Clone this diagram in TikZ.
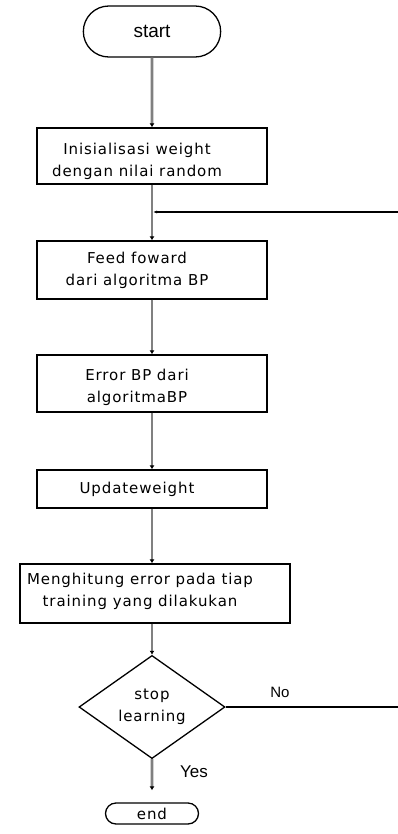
\documentclass[tikz,border=0pt]{standalone}
\usepackage{fontspec}
\setmainfont{Liberation Sans}
\newfontfamily\boxfont[LetterSpace=6]{DejaVu Sans}
\usetikzlibrary{shapes.geometric,shapes.misc,arrows.meta}

\begin{document}
\begin{tikzpicture}[x=1pt,y=-1pt,
    stepbox/.style={draw=black, line width=1.3pt, rectangle, inner sep=0pt},
    steptext/.style={align=center, inner sep=0pt, xshift=-15pt,
        font=\boxfont\fontsize{15}{22}\selectfont},
    flow/.style={draw=black!50, line width=2.6pt, -{Latex[black,length=4pt,width=5pt]}},
    loopline/.style={draw=black, line width=1.1pt}]
    \useasboundingbox (0,0) rectangle (397,834);
    % terminals
    \node [draw, line width=1.3pt, rounded rectangle, minimum width=144pt, minimum height=51pt,
        font=\fontsize{19}{22}\selectfont] (start) at (152,31.5) {start};
    \node [draw, line width=1.3pt, rounded rectangle, minimum width=93pt, minimum height=21pt,
        inner sep=0pt, font=\boxfont\fontsize{15}{16}\selectfont] (finish) at (152,813.5) {end};
    % process steps
    \node [stepbox, minimum width=230pt, minimum height=56pt,
        label={[steptext, yshift=-5pt]center:{Inisialisasi weight\\dengan nilai random}}] (init) at (152,156) {};
    \node [stepbox, minimum width=230pt, minimum height=58pt,
        label={[steptext]center:{Feed foward\\dari algoritma BP}}] (feed) at (152,270) {};
    \node [stepbox, minimum width=230pt, minimum height=57pt,
        label={[steptext, yshift=-4pt]center:{Error BP dari\\algoritmaBP}}] (error) at (152,383.5) {};
    \node [stepbox, minimum width=230pt, minimum height=38pt,
        label={[steptext]center:{Updateweight}}] (update) at (152,489) {};
    \node [stepbox, minimum width=270pt, minimum height=59pt,
        label={[steptext, yshift=2pt]center:{Menghitung error pada tiap\\training yang dilakukan}}] (count) at (155,593.5) {};
    % decision
    \node [draw, line width=1.3pt, diamond, minimum width=146pt, minimum height=90pt, inner sep=0pt,
        align=center, font=\boxfont\fontsize{15}{22}\selectfont] (stop) at (152,707) {stop\\learning};
    \node [font=\fontsize{15}{18}\selectfont] (no) at (280,692) {No};
    \node [font=\fontsize{17}{20}\selectfont] (yes) at (194,772) {Yes};
    % loop back
    \coordinate (loopA) at (399,707);
    \coordinate (loopB) at (399,212);
    \coordinate (join) at (153,212);
    % connectors
    \draw [flow] (start) -- (init);
    \draw [flow] (init) -- (feed);
    \draw [flow] (feed) -- (error);
    \draw [flow] (error) -- (update);
    \draw [flow] (update.south) -- (update.south |- count.north);
    \draw [flow] (update.south |- count.south) -- (stop.north);
    \draw [flow, shorten >=12pt] (stop) -- (finish);
    \draw [loopline, -{Latex[length=4pt,width=3pt]}] (stop.east) -- (loopA) -- (loopB) -- (join);
\end{tikzpicture}
\end{document}
